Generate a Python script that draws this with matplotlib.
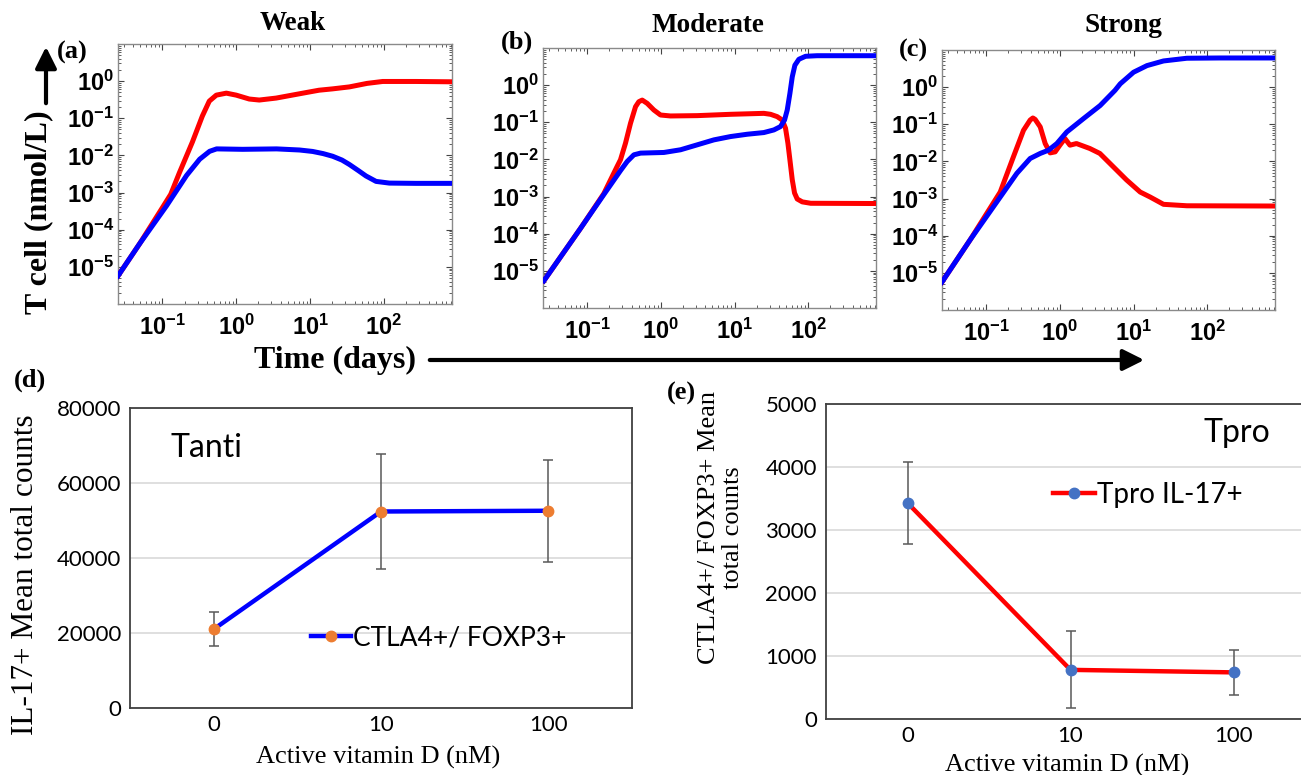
import numpy as np
import matplotlib
matplotlib.use('Agg')
import matplotlib.pyplot as plt
from matplotlib.ticker import FixedLocator, FuncFormatter, LogLocator, NullFormatter

# ---------------- data ----------------
# (a) Weak
weak_red_t = [0.0251, 0.0493, 0.1, 0.13, 0.170, 0.255, 0.348, 0.432, 0.538, 0.735, 1.0, 1.5, 2.05, 3.47, 5.7, 9.7, 13.2, 20.2, 34, 59, 96, 270, 830]
weak_red_v = [5.7e-6, 4.2e-5, 3.9e-4, 9.0e-4, 3.4e-3, 0.0229, 0.115, 0.29, 0.42, 0.475, 0.42, 0.33, 0.31, 0.35, 0.42, 0.51, 0.57, 0.62, 0.70, 0.87, 0.98, 0.98, 0.96]
weak_blue_t = [0.0251, 0.0493, 0.114, 0.213, 0.320, 0.436, 0.543, 1.22, 3.52, 7.2, 10.8, 15.0, 20.2, 27, 34, 45, 57, 78, 118, 270, 830]
weak_blue_v = [5.7e-6, 4.2e-5, 4.4e-4, 2.9e-3, 7.9e-3, 0.0129, 0.0150, 0.0146, 0.0150, 0.0140, 0.0128, 0.0112, 9.5e-3, 7.5e-3, 5.7e-3, 3.9e-3, 2.8e-3, 2.0e-3, 1.8e-3, 1.77e-3, 1.77e-3]

# (b) Moderate
mod_red_t = [0.0258, 0.0813, 0.168, 0.255, 0.283, 0.331, 0.387, 0.453, 0.502, 0.558, 0.652, 0.803, 0.989, 1.35, 3.11, 8.83, 25, 30.8, 37.9, 44.4, 49.2, 53.0, 56.4, 60.7, 65.2, 70.9, 83, 108, 850]
mod_red_v = [5.4e-6, 1.4e-4, 1.2e-3, 6.5e-3, 9.8e-3, 0.0274, 0.094, 0.263, 0.358, 0.396, 0.323, 0.214, 0.157, 0.148, 0.151, 0.164, 0.174, 0.164, 0.142, 0.115, 0.069, 0.0274, 9.8e-3, 2.85e-3, 1.25e-3, 8.6e-4, 7.2e-4, 6.6e-4, 6.5e-4]
mod_blue_t = [0.0258, 0.0813, 0.168, 0.283, 0.349, 0.430, 0.530, 1.10, 1.85, 3.11, 5.24, 8.83, 14.9, 25, 34.2, 42, 47.7, 51.9, 56.4, 60.7, 65.9, 74.7, 92, 132, 850]
mod_blue_v = [5.4e-6, 1.4e-4, 1.13e-3, 5.0e-3, 8.8e-3, 0.0133, 0.0148, 0.0154, 0.0182, 0.0247, 0.0336, 0.0413, 0.0477, 0.0529, 0.0623, 0.0766, 0.115, 0.214, 0.598, 1.67, 3.43, 4.97, 5.98, 6.2, 6.2]

# (c) Strong
str_red_t = [0.025, 0.0607, 0.155, 0.234, 0.321, 0.395, 0.43, 0.462, 0.541, 0.632, 0.738, 0.863, 1.0, 1.17, 1.37, 1.68, 2.55, 3.49, 5.3, 8.0, 12.3, 16.8, 25.5, 53, 840]
str_red_v = [5.6e-6, 7.8e-5, 1.5e-3, 0.0133, 0.069, 0.13, 0.148, 0.135, 0.085, 0.0303, 0.017, 0.0181, 0.0274, 0.0414, 0.0274, 0.0303, 0.0223, 0.0164, 7.2e-3, 3.2e-3, 1.5e-3, 1.1e-3, 7.0e-4, 6.4e-4, 6.3e-4]
str_blue_t = [0.025, 0.0607, 0.155, 0.261, 0.395, 0.541, 0.701, 0.91, 1.24, 2.09, 3.52, 5.6, 6.6, 10, 15.2, 25.5, 53, 150, 840]
str_blue_v = [5.6e-6, 7.8e-5, 1.1e-3, 4.8e-3, 0.012, 0.0164, 0.0201, 0.0303, 0.062, 0.142, 0.32, 0.82, 1.23, 2.52, 3.8, 5.07, 6.0, 6.1, 6.1]

x_major = [1e-1, 1e0, 1e1, 1e2]
y_major = [1e-5, 1e-4, 1e-3, 1e-2, 1e-1, 1e0]

# (d) / (e)
dose_labels = ['0', '10', '100']
tanti_vals = [21000, 52400, 52600]
tanti_err = [4500, 15300, 13600]
tpro_vals = [3430, 780, 740]
tpro_err = [650, 610, 360]

# ---------------- style ----------------
plt.rcParams['mathtext.fontset'] = 'custom'
plt.rcParams['mathtext.bf'] = 'Liberation Sans:bold'
plt.rcParams['mathtext.rm'] = 'Liberation Sans'
plt.rcParams['mathtext.it'] = 'Liberation Sans:italic'

W, H = 1301, 775
fig = plt.figure(figsize=(13.01, 7.75), dpi=100)


def rect(x0, y0, x1, y1):
    return [x0 / W, 1 - y1 / H, (x1 - x0) / W, (y1 - y0) / H]


def fx(x):
    return x / W


def fy(y):
    return 1 - y / H


SERIF = 'Liberation Serif'
CAL = 'Lato'

logfmt = FuncFormatter(lambda v, p: r'$\mathbf{10^{%d}}$' % int(round(np.log10(v))))


def log_panel(box, tr, vr, tb, vb):
    ax = fig.add_axes(rect(*box))
    ax.plot(tr, vr, color='#FF0000', lw=3.6, zorder=3, solid_joinstyle='round')
    ax.plot(tb, vb, color='#0000FF', lw=3.6, zorder=4, solid_joinstyle='round')
    ax.set_xscale('log')
    ax.set_yscale('log')
    ax.set_xlim(10 ** -1.6, 10 ** 2.92)
    ax.set_ylim(1e-6, 1e1)
    ax.xaxis.set_major_locator(FixedLocator(x_major))
    ax.yaxis.set_major_locator(FixedLocator(y_major))
    ax.xaxis.set_major_formatter(logfmt)
    ax.yaxis.set_major_formatter(logfmt)
    ax.xaxis.set_minor_locator(LogLocator(base=10, subs=np.arange(2, 10), numticks=30))
    ax.yaxis.set_minor_locator(LogLocator(base=10, subs=np.arange(2, 10), numticks=30))
    ax.xaxis.set_minor_formatter(NullFormatter())
    ax.yaxis.set_minor_formatter(NullFormatter())
    ax.tick_params(which='both', direction='in', top=True, right=True, color='#444444')
    ax.tick_params(which='major', length=4, width=0.8, labelsize=17)
    ax.tick_params(which='minor', length=2, width=0.6)
    ax.tick_params(axis='x', which='major', pad=8)
    ax.tick_params(axis='y', which='major', pad=3)
    for s in ax.spines.values():
        s.set_color('#8a8a8a')
        s.set_linewidth(1.0)
    return ax


log_panel((118, 44, 452, 304), weak_red_t, weak_red_v, weak_blue_t, weak_blue_v)
log_panel((543, 48, 876, 308), mod_red_t, mod_red_v, mod_blue_t, mod_blue_v)
log_panel((942, 50, 1275, 310), str_red_t, str_red_v, str_blue_t, str_blue_v)

# titles and panel labels
for txt, x, y in [('Weak', 293, 23), ('Moderate', 708, 25), ('Strong', 1123, 25)]:
    fig.text(fx(x), fy(y), txt, ha='center', va='center', family=SERIF, weight='bold', fontsize=19.5)
for txt, x, y in [('(a)', 72, 52), ('(b)', 517, 42), ('(c)', 913, 50)]:
    fig.text(fx(x), fy(y), txt, ha='center', va='center', family=SERIF, weight='bold', fontsize=19)

# shared axis labels with arrows
fig.text(fx(39), fy(212), 'T cell (nmol/L)', rotation=90, ha='center', va='center',
         family=SERIF, weight='bold', fontsize=23)
fig.add_artist(matplotlib.patches.FancyArrowPatch(
    (fx(46), fy(106)), (fx(46), fy(44)), transform=fig.transFigure,
    arrowstyle='-|>,head_length=8,head_width=4', lw=3, color='black', mutation_scale=1.6))
fig.text(fx(335), fy(360), 'Time (days)', ha='center', va='center',
         family=SERIF, weight='bold', fontsize=23)
fig.add_artist(matplotlib.patches.FancyArrowPatch(
    (fx(427), fy(360)), (fx(1147), fy(360)), transform=fig.transFigure,
    arrowstyle='-|>,head_length=8,head_width=4', lw=3, color='black', mutation_scale=1.6))


def excel_panel(box, vals, errs, line_color, marker_color, ymax, ystep, label):
    ax = fig.add_axes(rect(*box))
    x = np.arange(len(vals))
    ax.errorbar(x, vals, yerr=errs, fmt='none', ecolor='#595959', elinewidth=1.1,
                capsize=3.5, capthick=1.1, zorder=2)
    ax.plot(x, vals, color=line_color, lw=3.2, marker='o', ms=7.5,
            mfc=marker_color, mec=marker_color, zorder=3, label=label)
    ax.set_xlim(-0.5, 2.5)
    ax.set_ylim(0, ymax)
    ax.set_yticks(np.arange(0, ymax + 1, ystep))
    ax.set_xticks(x)
    ax.set_xticklabels(dose_labels)
    ax.yaxis.grid(True, color='#d9d9d9', lw=1.2)
    ax.set_axisbelow(True)
    ax.tick_params(length=0, labelsize=16)
    ax.tick_params(axis='y', pad=6.5)
    ax.tick_params(axis='x', pad=5)
    for lab in ax.get_xticklabels() + ax.get_yticklabels():
        lab.set_family(CAL)
    for s in ax.spines.values():
        s.set_color('#404040')
        s.set_linewidth(1.3)
    return ax


ax_d = excel_panel((130, 408, 632, 708), tanti_vals, tanti_err, '#0000FF', '#ED7D31', 80000, 20000,
                   'CTLA4+/ FOXP3+')
ax_d.legend(loc='center left', bbox_to_anchor=(fx(311), fy(638)), bbox_transform=fig.transFigure,
            frameon=False, handlelength=1.5, handletextpad=0.1, borderpad=0, borderaxespad=0,
            prop={'family': CAL, 'size': 19})
fig.text(fx(206), fy(448), 'Tanti', ha='center', va='center', family=CAL, fontsize=23)
fig.text(fx(26), fy(575), 'IL-17+ Mean total counts', rotation=90, ha='center', va='center',
         family=SERIF, fontsize=22.5)
fig.text(fx(378), fy(757), 'Active vitamin D (nM)', ha='center', va='center', family=SERIF, fontsize=19)
fig.text(fx(30), fy(380), '(d)', ha='center', va='center', family=SERIF, weight='bold', fontsize=19)

ax_e = excel_panel((826, 404, 1315, 719), tpro_vals, tpro_err, '#FF0000', '#4472C4', 5000, 1000,
                   'Tpro IL-17+')
ax_e.spines['right'].set_visible(False)
ax_e.legend(loc='center left', bbox_to_anchor=(fx(1053), fy(495)), bbox_transform=fig.transFigure,
            frameon=False, handlelength=1.5, handletextpad=0.1, borderpad=0, borderaxespad=0,
            prop={'family': CAL, 'size': 20})
fig.text(fx(1237), fy(433), 'Tpro', ha='center', va='center', family=CAL, fontsize=23)
fig.text(fx(721), fy(528), 'CTLA4+/ FOXP3+ Mean\ntotal counts', rotation=90, ha='center', va='center',
         multialignment='center', family=SERIF, fontsize=19, linespacing=1.15)
fig.text(fx(1067), fy(765), 'Active vitamin D (nM)', ha='center', va='center', family=SERIF, fontsize=19)
fig.text(fx(681), fy(393), '(e)', ha='center', va='center', family=SERIF, weight='bold', fontsize=19)

fig.savefig('out.png', dpi=100)
